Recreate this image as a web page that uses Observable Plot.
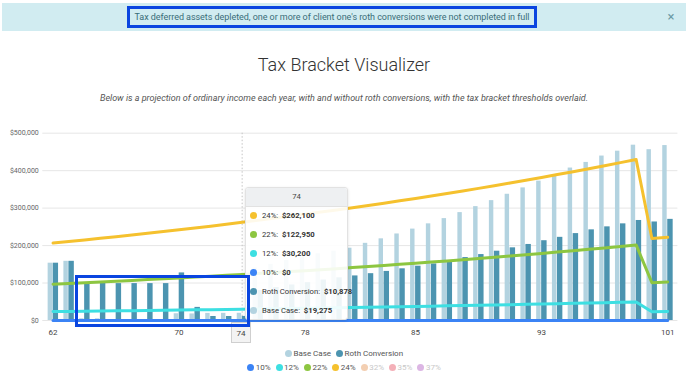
<!DOCTYPE html>
<html><head><meta charset="utf-8">
<script src="https://cdn.jsdelivr.net/npm/d3@7"></script>
<script src="https://cdn.jsdelivr.net/npm/@observablehq/plot@0.6"></script>
<style>
body{margin:0;width:688px;height:378px;position:relative;font-family:Roboto,sans-serif;background:#fff;overflow:hidden}
.abs{position:absolute;box-sizing:border-box}
#banner{left:2px;top:3px;width:684px;height:28px;background:#d1ecf1;}
#bannerText{left:-12px;top:3px;width:688px;height:28px;line-height:28px;text-align:center;font-size:9px;color:#3a6d78;letter-spacing:-0.05px}
#bannerClose{left:664px;top:3px;width:14px;height:28px;line-height:28px;text-align:center;font-size:13px;color:#6a9aa5;}
#bannerBox{left:127px;top:6px;width:410px;height:22px;border:3px solid #0a45e0;}
#title{left:0;top:54px;width:688px;text-align:center;font-size:18px;font-weight:300;color:#333;}
#subtitle{left:0;top:93px;width:688px;text-align:center;font-size:9px;font-style:italic;color:#555;}
#chart{left:0;top:118px;}
#xbox{left:231px;top:322px;width:20px;height:21px;border:1px solid #cfcfcf;background:#f3f3f3;font-size:8px;color:#444;text-align:center;line-height:21px;}
#tip{left:245px;top:187px;width:103px;height:133px;background:rgba(255,255,255,0.9);border:1px solid #e2e2e2;border-radius:3px;box-shadow:0 1px 3px rgba(0,0,0,0.12);font-size:7.7px;color:#333;}
#tipHead{height:18px;background:#eef0f2;border-bottom:1px solid #e2e2e2;text-align:center;line-height:18px;font-size:7.7px;color:#444;border-radius:3px 3px 0 0}
.tr{position:absolute;left:4px;height:10px;line-height:10px;white-space:nowrap}
.dot{display:inline-block;width:7px;height:7px;border-radius:50%;vertical-align:-1px;margin-right:5px}
#chartBox{left:75px;top:275px;width:175px;height:52px;border:3px solid #0a45e0;}
.leg{position:absolute;left:0;width:688px;display:flex;justify-content:center;font-size:8px;color:#555;white-space:nowrap}
.li{display:flex;align-items:center;margin:0 2.5px}
.li .dot{margin-right:1.5px;vertical-align:0}
</style></head><body>
<div id="banner" class="abs"></div>
<div id="bannerText" class="abs">Tax deferred assets depleted, one or more of client one's roth conversions were not completed in full</div>
<div id="bannerClose" class="abs">×</div>
<div id="bannerBox" class="abs"></div>
<div id="title" class="abs">Tax Bracket Visualizer</div>
<div id="subtitle" class="abs">Below is a projection of ordinary income each year, with and without roth conversions, with the tax bracket thresholds overlaid.</div>
<div id="chart" class="abs"></div>
<div id="xbox" class="abs"></div>
<div id="tip" class="abs"><div id="tipHead"></div></div>
<div id="chartBox" class="abs"></div>
<div id="leg1" class="leg" style="top:349px"></div>
<div id="leg2" class="leg" style="top:363px"></div>
<script>
const ages = [62,63,64,65,66,67,68,69,70,71,72,73,74,75,76,77,78,79,80,81,82,83,84,85,86,87,88,89,90,91,92,93,94,95,96,97,98,99,100,101];
const baseCase = [153000,158000,4500,4500,2000,2000,2000,2000,18000,17500,19000,19100,19275,140000,150000,160000,170000,178000,185000,193000,206000,218000,231000,244000,258000,272000,288000,304000,320000,337000,354000,372000,389000,407000,422000,439000,452000,468000,456000,467000];
const rothConversion = [153000,158000,98000,99500,98500,98500,98500,98500,127000,35000,10700,10700,10878,80000,88000,95000,101000,108000,114000,119000,125000,131000,138000,145000,151000,158000,168000,176000,185000,194000,203000,213000,222000,232000,242000,250000,258000,267000,263000,270000];
const bracket10 = [0,0,0,0,0,0,0,0,0,0,0,0,0,0,0,0,0,0,0,0,0,0,0,0,0,0,0,0,0,0,0,0,0,0,0,0,0,0,0,0];
const bracket12 = [23800,24300,24800,25300,25800,26300,26800,27400,27900,28500,29000,29600,30200,30800,31400,32050,32700,33350,34000,34700,35400,36100,36800,37550,38300,39050,39850,40650,41450,42300,43150,44000,44900,45800,46700,47600,48600,49550,23500,24000];
const bracket22 = [96950,98900,100850,102900,104950,107050,109200,111350,113600,115850,118200,120550,122950,125400,127900,130500,133100,135750,138450,141250,144050,146950,149900,152900,155950,159050,162250,165500,168800,172150,175600,179100,182700,186350,190050,193850,197750,201700,101000,103000];
const bracket24 = [206700,210800,215000,219300,223700,228200,232700,237400,242100,247000,251900,257000,262100,267300,272700,278100,283700,289400,295200,301100,307100,313200,319500,325900,332400,339000,345800,352700,359800,367000,374300,381800,389500,397200,405200,413300,421500,430000,219000,222000];
const xTicks = [62,70,78,85,93,101];
const yTicks = [0,100000,200000,300000,400000,500000];
const hoverAge = 74;
const seriesNames = ["Base Case","Roth Conversion"];
const seriesColors = ["#b3d3e0","#4c94b0"];
const bracketNames = ["10%","12%","22%","24%","32%","35%","37%"];
const bracketColors = ["#3b83f5","#3ddfe2","#8dc641","#f5c12e","#f3cfb2","#f4b0b8","#dcb6e4"];
const bracketActive = [true,true,true,true,false,false,false];

const rows = ages.map((a,i)=>({age:a, base:baseCase[i], roth:rothConversion[i]}));
const bracketSeries = [bracket10,bracket12,bracket22,bracket24];
const money = d => "$" + d3.format(",")(d);

const lineMarks = bracketSeries.map((vals,k)=>Plot.line(ages.map((a,i)=>({age:a,v:vals[i]})), {x:"age", y:"v", stroke:bracketColors[k], strokeWidth:3, curve:"linear"}));

const svg = Plot.plot({
  width:688, height:225,
  marginLeft:42.3, marginRight:10.6, marginTop:14.7, marginBottom:23,
  style:{fontFamily:"Roboto, sans-serif", background:"transparent", overflow:"visible"},
  x:{type:"band", domain:ages, padding:0.3},
  y:{domain:[0,500000]},
  marks:[
    Plot.gridY(yTicks, {stroke:"#e6e6e6", strokeOpacity:1}),
    Plot.axisY(yTicks, {tickSize:0, tickPadding:4, tickFormat:money, fontSize:7, fill:"#666", label:null}),
    Plot.axisX(xTicks, {tickSize:0, tickPadding:9, fontSize:8, fill:"#444", label:null}),
    Plot.ruleX([hoverAge], {stroke:"#c4c4c4", strokeDasharray:"1.5,2", strokeWidth:1}),
    Plot.barY(rows, {x:"age", y:"base", fill:seriesColors[0], insetRight:6, insetLeft:0.6}),
    Plot.barY(rows, {x:"age", y:"roth", fill:seriesColors[1], insetLeft:5.6}),
    ...lineMarks
  ]
});
document.getElementById("chart").appendChild(svg);

// crosshair label and tooltip
const hi = ages.indexOf(hoverAge);
document.getElementById("xbox").textContent = hoverAge;
const tip = document.getElementById("tip");
document.getElementById("tipHead").textContent = hoverAge;
const tipRows = [
  ["24%:", bracket24[hi], bracketColors[3]],
  ["22%:", bracket22[hi], bracketColors[2]],
  ["12%:", bracket12[hi], bracketColors[1]],
  ["10%:", bracket10[hi], bracketColors[0]],
  ["Roth Conversion:", rothConversion[hi], seriesColors[1]],
  ["Base Case:", baseCase[hi], seriesColors[0]]
];
tipRows.forEach((r,j)=>{
  const d = document.createElement("div");
  d.className = "tr";
  d.style.top = (23 + j*19) + "px";
  d.innerHTML = `<span class="dot" style="background:${r[2]}"></span>${r[0]}&nbsp; <b>${money(r[1])}</b>`;
  tip.appendChild(d);
});

// legends
const leg1 = document.getElementById("leg1");
seriesNames.forEach((n,i)=>{
  leg1.innerHTML += `<span class="li"><span class="dot" style="background:${seriesColors[i]}"></span>${n}</span>`;
});
const leg2 = document.getElementById("leg2");
bracketNames.forEach((n,i)=>{
  leg2.innerHTML += `<span class="li" style="color:${bracketActive[i]?'#555':'#c8c8c8'}"><span class="dot" style="background:${bracketColors[i]}"></span>${n}</span>`;
});
</script>
</body></html>
